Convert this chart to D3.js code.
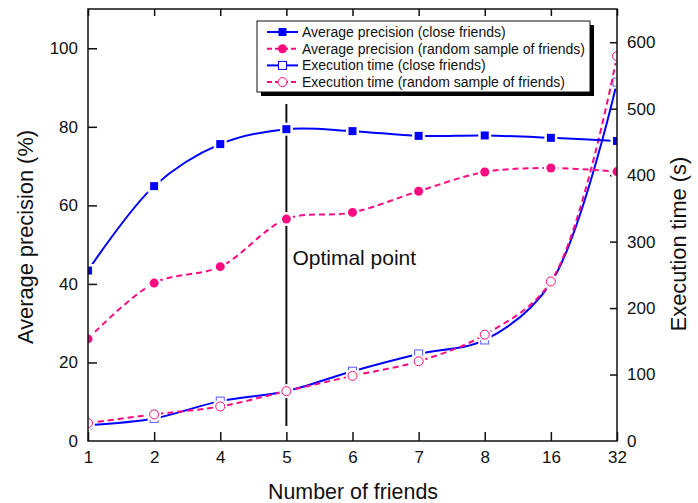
<!DOCTYPE html>
<html>
<head>
<meta charset="utf-8">
<script src="https://cdn.jsdelivr.net/npm/d3@7"></script>
<style>
  body { margin: 0; background: #fff; }
  svg { display: block; font-family: "Liberation Sans", Arial, sans-serif; }
</style>
</head>
<body>
<svg id="chart" width="698" height="503"></svg>
<script>
const categories = ["1", "2", "4", "5", "6", "7", "8", "16", "32"];
const precisionClose = [43.4, 64.9, 75.6, 79.4, 78.9, 77.7, 77.8, 77.2, 76.4];
const precisionRandom = [26.0, 40.2, 44.4, 56.5, 58.2, 63.6, 68.5, 69.5, 68.6];
const timeClose = [24, 34, 60, 75, 105, 131, 152, 238, 540];
const timeRandom = [27, 40, 52, 75, 98, 120, 160, 240, 579];
const leftTicks = [0, 20, 40, 60, 80, 100];
const rightTicks = [0, 100, 200, 300, 400, 500, 600];
const optimalCategory = "5";
const legendLabels = [
  "Average precision (close friends)",
  "Average precision (random sample of friends)",
  "Execution time (close friends)",
  "Execution time (random sample of friends)"
];

const BLUE = "#0000ff", PINK = "#ff0a80";
const L = 88, R = 617, T = 9, B = 441;
const svg = d3.select("#chart");

svg.append("defs").append("clipPath").attr("id", "plotclip")
  .append("rect").attr("x", L).attr("y", T).attr("width", R - L).attr("height", B - T);

const x = d3.scalePoint().domain(categories).range([L, R]);
const yL = d3.scaleLinear().domain([0, 110]).range([B, T]);
const yR = d3.scaleLinear().domain([0, 650]).range([B, T]);

// axes
const fs = "17px";
const gL = svg.append("g").attr("transform", `translate(${L},0)`)
  .call(d3.axisLeft(yL).tickValues(leftTicks).tickSize(-9).tickPadding(10));
const gR = svg.append("g").attr("transform", `translate(${R},0)`)
  .call(d3.axisRight(yR).tickValues(rightTicks).tickSize(-7).tickPadding(10));
const gB = svg.append("g").attr("transform", `translate(0,${B})`)
  .call(d3.axisBottom(x).tickSize(-9).tickPadding(10));
const gT = svg.append("g").attr("transform", `translate(0,${T})`)
  .call(d3.axisTop(x).tickSize(-7).tickFormat(""));
[gL, gR, gB, gT].forEach(g => {
  g.select(".domain").remove();
  g.selectAll(".tick line").attr("stroke", "#111").attr("stroke-width", 1.5);
  g.selectAll(".tick text").attr("font-size", fs).attr("fill", "#111")
    .attr("font-family", "Liberation Sans, Arial, sans-serif");
});
gL.selectAll(".tick").filter(d => d === 0).select("line").remove();
gR.selectAll(".tick").filter(d => d === 0).select("line").remove();

// axis titles
svg.append("text").attr("x", 353).attr("y", 499).attr("text-anchor", "middle")
  .attr("font-size", "21.4px").attr("fill", "#111").text("Number of friends");
svg.append("text").attr("transform", `translate(33,237) rotate(-90)`).attr("text-anchor", "middle")
  .attr("font-size", "21.8px").attr("fill", "#111").text("Average precision (%)");
svg.append("text").attr("transform", `translate(686,244) rotate(-90)`).attr("text-anchor", "middle")
  .attr("font-size", "21.8px").attr("fill", "#111").text("Execution time (s)");

// optimal point
svg.append("line").attr("x1", x(optimalCategory)).attr("x2", x(optimalCategory))
  .attr("y1", 104).attr("y2", 426).attr("stroke", "#111").attr("stroke-width", 2);
svg.append("text").attr("x", x(optimalCategory) + 6).attr("y", 265)
  .attr("font-size", "21px").attr("fill", "#111").text("Optimal point");

const plot = svg.append("g").attr("clip-path", "url(#plotclip)");
const curve = d3.curveCatmullRom.alpha(0.5);
function series(vals, yScale, color, dashed, marker) {
  const pts = vals.map((v, i) => [x(categories[i]), yScale(v)]);
  plot.append("path").attr("d", d3.line().curve(curve)(pts))
    .attr("fill", "none").attr("stroke", color).attr("stroke-width", 2)
    .attr("stroke-dasharray", dashed ? "6,4" : null);
  pts.forEach(p => drawMarker(plot, p[0], p[1], marker, color));
}
function drawMarker(g, cx, cy, type, color) {
  if (type === "fsq" || type === "osq") {
    g.append("rect").attr("x", cx - 6.5).attr("y", cy - 6.5).attr("width", 13).attr("height", 13)
      .attr("fill", "#fff");
    if (type === "fsq")
      g.append("rect").attr("x", cx - 4).attr("y", cy - 4).attr("width", 8).attr("height", 8).attr("fill", color);
    else
      g.append("rect").attr("x", cx - 4).attr("y", cy - 4).attr("width", 8).attr("height", 8)
        .attr("fill", "#fff").attr("stroke", "#5a5aff").attr("stroke-width", 1);
  } else {
    g.append("circle").attr("cx", cx).attr("cy", cy).attr("r", 7).attr("fill", "#fff");
    if (type === "fci")
      g.append("circle").attr("cx", cx).attr("cy", cy).attr("r", 4.5).attr("fill", color);
    else
      g.append("circle").attr("cx", cx).attr("cy", cy).attr("r", 4.5)
        .attr("fill", "#fff").attr("stroke", color).attr("stroke-width", 1);
  }
}

series(timeClose, yR, BLUE, false, "osq");
series(timeRandom, yR, PINK, true, "oci");
series(precisionRandom, yL, PINK, true, "fci");
series(precisionClose, yL, BLUE, false, "fsq");

// frame on top
svg.append("rect").attr("x", L).attr("y", T).attr("width", R - L).attr("height", B - T)
  .attr("fill", "none").attr("stroke", "#111").attr("stroke-width", 1.5);

// legend
const lg = svg.append("g");
lg.append("rect").attr("x", 261).attr("y", 25).attr("width", 333).attr("height", 71).attr("fill", "#000");
lg.append("rect").attr("x", 257).attr("y", 21).attr("width", 333).attr("height", 71)
  .attr("fill", "#fff").attr("stroke", "#111").attr("stroke-width", 1);
const lspec = [[BLUE, false, "fsq"], [PINK, true, "fci"], [BLUE, false, "osq"], [PINK, true, "oci"]];
legendLabels.forEach((t, i) => {
  const yy = 32 + i * 16.7;
  lg.append("line").attr("x1", 267).attr("x2", 298).attr("y1", yy).attr("y2", yy)
    .attr("stroke", lspec[i][0]).attr("stroke-width", 2)
    .attr("stroke-dasharray", lspec[i][1] ? "5,3" : null);
  const m = lg.append("g");
  if (lspec[i][2] === "fsq") m.append("rect").attr("x", 278.5).attr("y", yy - 4).attr("width", 8).attr("height", 8).attr("fill", BLUE);
  else if (lspec[i][2] === "osq") m.append("rect").attr("x", 278.5).attr("y", yy - 4).attr("width", 8).attr("height", 8).attr("fill", "#fff").attr("stroke", BLUE);
  else if (lspec[i][2] === "fci") m.append("circle").attr("cx", 282.5).attr("cy", yy).attr("r", 4.5).attr("fill", PINK);
  else m.append("circle").attr("cx", 282.5).attr("cy", yy).attr("r", 4.5).attr("fill", "#fff").attr("stroke", PINK);
  lg.append("text").attr("x", 302).attr("y", yy + 5).attr("font-size", "14px").attr("fill", "#111").text(t);
});
</script>
</body>
</html>
